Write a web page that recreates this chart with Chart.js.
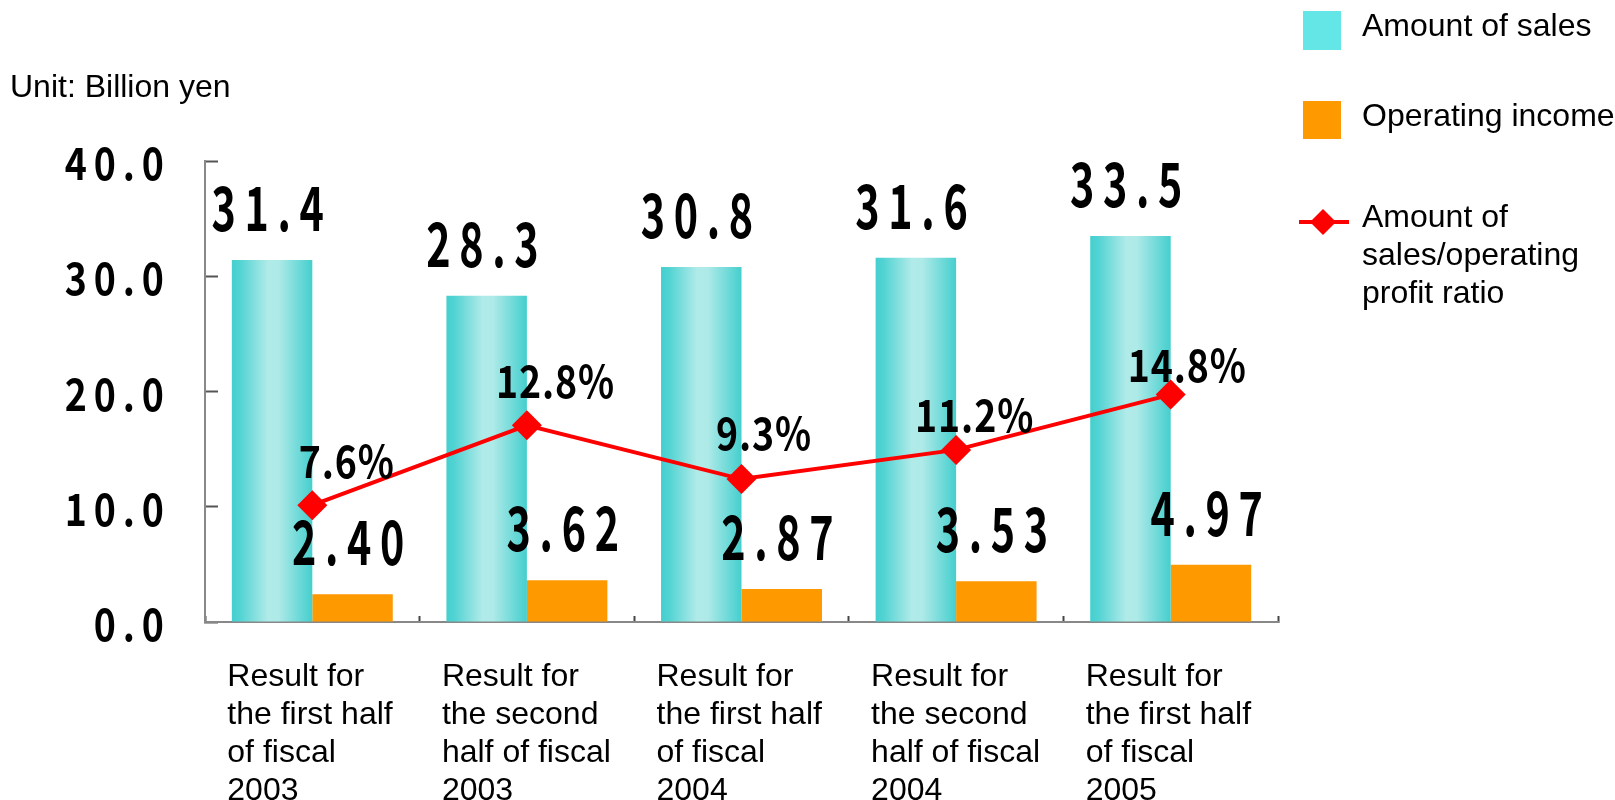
<!DOCTYPE html>
<html>
<head>
<meta charset="utf-8">
<script src="https://cdn.jsdelivr.net/npm/chart.js@4.4.1/dist/chart.umd.min.js"></script>
<style>
  html, body { margin: 0; padding: 0; background: #fff; overflow: hidden; }
  #wrap { width: 1615px; height: 800px; position: relative; }
</style>
</head>
<body>
<div id="wrap"><canvas id="chart" width="1615" height="800"></canvas></div>
<script>
// categories (multi-line labels)
const CATEGORIES = [
  ["Result for", "the first half", "of fiscal", "2003"],
  ["Result for", "the second", "half of fiscal", "2003"],
  ["Result for", "the first half", "of fiscal", "2004"],
  ["Result for", "the second", "half of fiscal", "2004"],
  ["Result for", "the first half", "of fiscal", "2005"],
];

// values, billion yen
const SALES = [31.4, 28.3, 30.8, 31.6, 33.5];
const INCOME = [2.40, 3.62, 2.87, 3.53, 4.97];
// ratio, %
const RATIO = [7.6, 12.8, 9.3, 11.2, 14.8];

const Y_TICKS = ["0.0", "10.0", "20.0", "30.0", "40.0"];
const SERIES_NAMES = ["Amount of sales", "Operating income", ["Amount of", "sales/operating", "profit ratio"]];
const UNIT_LABEL = "Unit: Billion yen";

// hand placed nudges for the % labels (px from the marker)
const PCT_DX = [33, 27, 21, 17, 15];
const PCT_DY = [27, 27, 29, 18, 13];

const CYAN_LEGEND = "#64E6E6";
const ORANGE = "#FF9900";
const RED = "#FF0000";
const ARIAL = "'Liberation Sans', Arial, sans-serif";
const GOTHIC = "'Noto Sans CJK JP', sans-serif";

// the numbers in the original use a narrow gothic with wide tracking,
// so size the bold gothic to a digit box: ink width, ink height, pitch
const probe = document.createElement("canvas").getContext("2d");
function digitBox(size) {
  probe.font = "bold " + size + "px " + GOTHIC;
  const m = probe.measureText("0");
  return { w: m.actualBoundingBoxLeft + m.actualBoundingBoxRight, h: m.actualBoundingBoxAscent, adv: m.width };
}
function calib(size, inkW, inkH, pitch, keepHeight) {
  if (keepHeight) size = size * inkH / digitBox(size).h;
  const d = digitBox(size);
  const sx = inkW / d.w;
  const sy = keepHeight ? 1 : inkH / d.h;
  return { size, sx, sy, spacing: pitch / sx - d.adv, gap: pitch - inkW };
}
const TICK_FONT = calib(45, 20, 33, 29, true);
const BIG_FONT = calib(45, 22, 45, 33, false);
const PCT_FONT = calib(45, 20, 33, 23, false);

const AXIS_X = 205;       // left edge of plot
const TICK_RIGHT = 164;   // right edge of y tick numbers
// label x = AXIS_X + 13 - padding (inner ticks of 13px), then scaled about AXIS_X
const Y_TICK_PAD = 13 + (AXIS_X - TICK_RIGHT) / TICK_FONT.sx - TICK_FONT.spacing;

function drawFitted(ctx, text, cx, by, f) {
  ctx.save();
  ctx.font = "bold " + f.size + "px " + GOTHIC;
  ctx.letterSpacing = f.spacing + "px";
  ctx.textAlign = "center";
  ctx.textBaseline = "alphabetic";
  ctx.translate(cx, by);
  ctx.scale(f.sx, f.sy);
  ctx.fillText(text, 0, 0);
  ctx.restore();
}

// cyan bars have a horizontal shading
function salesFill(c) {
  const chart = c.chart;
  const xs = chart.scales.x;
  if (!chart.chartArea || !xs || c.dataIndex === undefined) return "#48D1CC";
  const center = xs.getPixelForValue(c.dataIndex);
  const bw = (xs.width / CATEGORIES.length) * 0.75 / 2;
  const g = chart.ctx.createLinearGradient(center - bw, 0, center, 0);
  g.addColorStop(0, "#44CFCF");
  g.addColorStop(0.1, "#52D3D3");
  g.addColorStop(0.45, "#B0EBE9");
  g.addColorStop(0.58, "#AEEAE8");
  g.addColorStop(1, "#44CFCE");
  return g;
}

function diamond(ctx, x, y, r) {
  ctx.beginPath();
  ctx.moveTo(x, y - r);
  ctx.lineTo(x + r, y);
  ctx.lineTo(x, y + r);
  ctx.lineTo(x - r, y);
  ctx.closePath();
  ctx.fill();
}

const decor = {
  id: "decor",
  beforeDraw(chart) {
    chart.ctx.letterSpacing = "0px";
  },
  afterDatasetsDraw(chart) {
    // y tick numbers (z:1) come next: narrow them about the axis and track them out
    const ctx = chart.ctx;
    ctx.save();
    ctx.translate(AXIS_X, 0);
    ctx.scale(TICK_FONT.sx, 1);
    ctx.translate(-AXIS_X, 0);
    ctx.letterSpacing = TICK_FONT.spacing + "px";
  },
  afterDraw(chart) {
    const ctx = chart.ctx;
    ctx.restore();
    ctx.letterSpacing = "0px";
    ctx.save();
    ctx.fillStyle = "#000";

    // big value labels above bars
    chart.getDatasetMeta(0).data.forEach((bar, i) => {
      drawFitted(ctx, SALES[i].toFixed(1), bar.x, bar.y - 29, BIG_FONT);
    });
    chart.getDatasetMeta(1).data.forEach((bar, i) => {
      drawFitted(ctx, INCOME[i].toFixed(2), bar.x, bar.y - 29, BIG_FONT);
    });

    // percent labels
    chart.getDatasetMeta(2).data.forEach((pt, i) => {
      drawFitted(ctx, RATIO[i].toFixed(1) + "%", pt.x + PCT_DX[i] + PCT_FONT.gap / 2, pt.y - PCT_DY[i], PCT_FONT);
    });

    // unit
    ctx.textAlign = "left";
    ctx.textBaseline = "alphabetic";
    ctx.font = "32px " + ARIAL;
    ctx.fillText(UNIT_LABEL, 10, 97);

    // legend
    ctx.font = "32px " + ARIAL;
    ctx.fillStyle = CYAN_LEGEND;
    ctx.fillRect(1303, 11, 38, 39);
    ctx.fillStyle = "#000";
    ctx.fillText(SERIES_NAMES[0], 1362, 36);
    ctx.fillStyle = ORANGE;
    ctx.fillRect(1303, 101, 38, 38);
    ctx.fillStyle = "#000";
    ctx.fillText(SERIES_NAMES[1], 1362, 126);
    ctx.strokeStyle = RED;
    ctx.lineWidth = 4;
    ctx.beginPath();
    ctx.moveTo(1299, 222);
    ctx.lineTo(1349, 222);
    ctx.stroke();
    ctx.fillStyle = RED;
    diamond(ctx, 1323, 222, 13);
    ctx.fillStyle = "#000";
    SERIES_NAMES[2].forEach((line, k) => ctx.fillText(line, 1362, 227 + k * 38));

    ctx.restore();
  }
};

new Chart(document.getElementById("chart"), {
  data: {
    labels: CATEGORIES,
    datasets: [
      {
        type: "bar",
        label: SERIES_NAMES[0],
        data: SALES,
        yAxisID: "y",
        backgroundColor: salesFill,
        borderWidth: 0,
        barPercentage: 1,
        categoryPercentage: 0.75,
        order: 1,
      },
      {
        type: "bar",
        label: SERIES_NAMES[1],
        data: INCOME,
        yAxisID: "y",
        backgroundColor: ORANGE,
        borderWidth: 0,
        barPercentage: 1,
        categoryPercentage: 0.75,
        order: 1,
      },
      {
        type: "line",
        label: SERIES_NAMES[2].join(" "),
        data: RATIO,
        yAxisID: "y1",
        borderColor: RED,
        borderWidth: 4,
        pointStyle: "rectRot",
        pointRadius: 15,
        pointBackgroundColor: RED,
        pointBorderWidth: 0,
        tension: 0,
        order: 0,
      },
    ],
  },
  options: {
    responsive: false,
    animation: false,
    devicePixelRatio: 1,
    layout: { padding: { top: 161, right: 337, left: 0, bottom: 0 } },
    plugins: {
      legend: { display: false },
      tooltip: { enabled: false },
    },
    scales: {
      x: {
        offset: true,
        grid: { offset: true, drawOnChartArea: false, drawTicks: true, tickLength: -6, tickColor: "#444", tickWidth: 2 },
        border: { display: true, color: "#888", width: 2 },
        ticks: {
          color: "#000",
          font: { family: ARIAL, size: 32, lineHeight: 38 / 32 },
          align: "start",
          labelOffset: -85,
          padding: 42,
          maxRotation: 0,
          autoSkip: false,
        },
        afterFit(s) { s.height = 178; },
      },
      y: {
        position: "left",
        min: 0,
        max: 40,
        z: 1,
        grid: { z: -1, drawOnChartArea: false, drawTicks: true, tickLength: -13, tickColor: "#555", tickWidth: 2 },
        border: { z: 0, display: true, color: "#888", width: 2 },
        ticks: {
          z: 1,
          stepSize: 10,
          color: "#000",
          font: { family: GOTHIC, weight: "bold", size: TICK_FONT.size },
          padding: Y_TICK_PAD,
          labelOffset: 2,
          callback: (v, i) => Y_TICKS[i],
        },
        afterFit(s) { s.width = AXIS_X; },
      },
      y1: {
        display: false,
        position: "right",
        min: 0,
        max: 30,
      },
    },
  },
  plugins: [decor],
});
</script>
</body>
</html>
